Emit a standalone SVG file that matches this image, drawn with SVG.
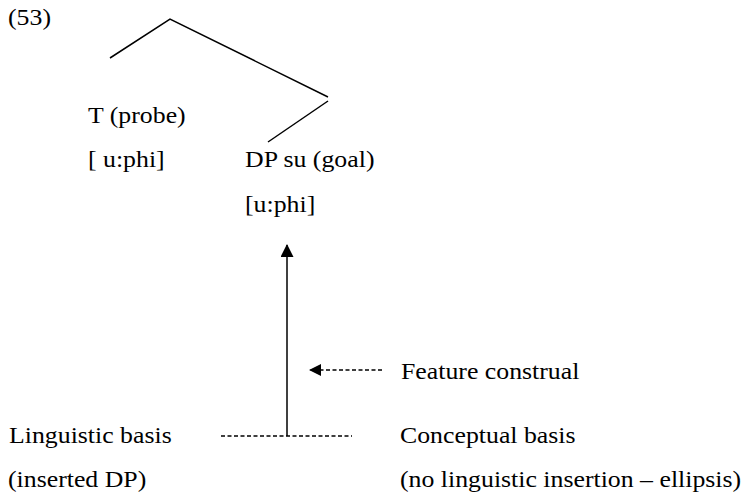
<svg xmlns="http://www.w3.org/2000/svg" width="754" height="495" viewBox="0 0 754 495">
<style>
text{font-family:"Liberation Serif","Times New Roman",serif;font-size:22.7px;fill:#000}
.ln{stroke:#000;stroke-width:1.5;fill:none}
.ds{stroke:#000;stroke-width:1.3;stroke-dasharray:4,2.5;fill:none}
</style>
<defs>
<marker id="ah" markerWidth="13" markerHeight="13" refX="12" refY="6.5" orient="auto" markerUnits="userSpaceOnUse">
<path d="M0,0 L13,6.5 L0,13 Z" fill="#000"/>
</marker>
<marker id="ah2" markerWidth="12" markerHeight="12" refX="11" refY="6" orient="auto" markerUnits="userSpaceOnUse">
<path d="M0,0 L12,6 L0,12 Z" fill="#000"/>
</marker>
</defs>
<g id="label53"><text transform="translate(8,25) scale(1.137,1)">(53)</text></g>
<g id="connectors">
<path class="ln" d="M110,58 L170,19 L328,97"/>
<path class="ln" d="M328,101 L268,142"/>
<path class="ds" d="M221,436 L352,436"/>
<path class="ln" d="M287,436 L287,245" stroke-width="2" marker-end="url(#ah)"/>
<path class="ds" d="M382,370 L310,370" marker-end="url(#ah2)"/>
</g>
<g id="T">
<text transform="translate(88,123) scale(1.137,1)">T (probe)</text>
<text transform="translate(88,167) scale(1.137,1)">[ u:phi]</text>
</g>
<g id="DP">
<text transform="translate(245,167) scale(1.137,1)">DP su (goal)</text>
<text transform="translate(245,212) scale(1.137,1)">[u:phi]</text>
</g>
<g id="feature"><text transform="translate(401,379) scale(1.137,1)">Feature construal</text></g>
<g id="linguistic">
<text transform="translate(9,443) scale(1.137,1)">Linguistic basis</text>
<text transform="translate(8,487) scale(1.137,1)">(inserted DP)</text>
</g>
<g id="conceptual">
<text transform="translate(400,443) scale(1.137,1)">Conceptual basis</text>
<text transform="translate(400,487) scale(1.137,1)">(no linguistic insertion – ellipsis)</text>
</g>
</svg>
